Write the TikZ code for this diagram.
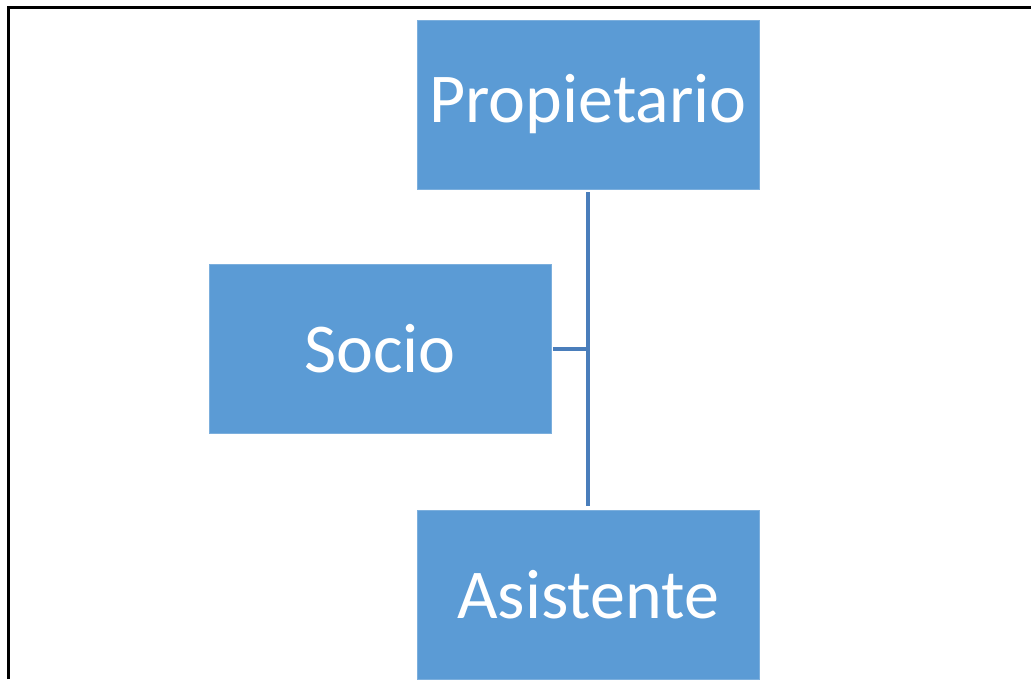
\documentclass[tikz,border=0pt]{standalone}
\usepackage{fontspec}
\setmainfont{Carlito}
\definecolor{boxblue}{HTML}{5B9BD5}
\definecolor{linkblue}{HTML}{4A7EBB}
\begin{document}
\begin{tikzpicture}[x=0.75pt,y=-0.75pt,
  box/.style={rectangle, fill=boxblue, draw=boxblue!80!white, line width=0.6pt, minimum width=256.5pt, minimum height=126.75pt, inner sep=0pt, text=white, font=\fontsize{52.5}{60}\selectfont},
  conn/.style={draw=linkblue, line width=2.3pt}]
\useasboundingbox (0,0) rectangle (1031,679);
\draw[black, line width=1.6pt] (8.5,679) -- (8.5,7.5) -- (1031,7.5);
\node[box] (P) at (588,104.5) {Propietario};
\node[box] (S) at (380,349) {Socio};
\node[box] (A) at (588,594.5) {Asistente};
\draw[conn] ([yshift=-2.25pt]P.south) -- ([yshift=3pt]A.north);
\draw[conn] ([xshift=1.5pt]S.east) -- (S.east -| P.south);
\end{tikzpicture}
\end{document}
